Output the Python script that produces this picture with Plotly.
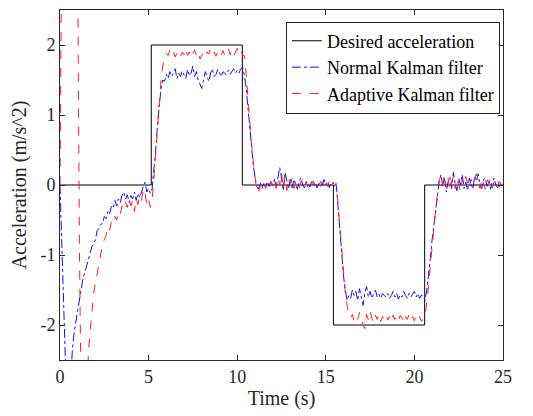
import numpy as np
import plotly.graph_objects as go

# Desired acceleration (step profile)
step_times = [0, 5.15, 10.29, 15.43, 20.58, 25]
step_levels = [0, 2, 0, -2, 0, 0]

# Filter outputs sampled every 0.1 s from 0 to 25 s
time = np.round(np.arange(0, 25.0001, 0.1), 2)

normal_kf = [
    0, -0.85, -1.7, -2.55, -3.3, -3.2, -2.75, -2.35, -2.1, -1.95,
    -1.8, -1.68, -1.5, -1.33, -1.25, -1.15, -1.08, -0.95, -0.88, -0.83,
    -0.78, -0.65, -0.62, -0.56, -0.55, -0.45, -0.48, -0.38, -0.42, -0.3,
    -0.33, -0.22, -0.3, -0.2, -0.25, -0.15, -0.1, -0.2, -0.14, -0.25,
    -0.15, -0.2, -0.1, -0.22, -0.12, -0.18, -0.08, -0.02, 0.04, -0.1,
    -0.05, -0.12, -0.05, 0.2, 0.5, 0.85, 1.15, 1.38, 1.5, 1.48,
    1.58, 1.52, 1.62, 1.55, 1.6, 1.66, 1.52, 1.6, 1.55, 1.63,
    1.57, 1.52, 1.65, 1.56, 1.6, 1.7, 1.55, 1.62, 1.5, 1.45,
    1.38, 1.5, 1.62, 1.55, 1.48, 1.6, 1.66, 1.55, 1.58, 1.65,
    1.6, 1.55, 1.62, 1.6, 1.57, 1.64, 1.58, 1.62, 1.66, 1.6,
    1.64, 1.6, 1.66, 1.68, 1.58, 1.4, 1.1, 0.82, 0.55, 0.3,
    0.12, -0.02, -0.06, 0.04, -0.05, 0.02, -0.04, 0.05, -0.02, 0.06,
    0.0, 0.08, -0.03, 0.12, 0.25, 0.1, -0.08, 0.18, 0.05, -0.06,
    0.1, -0.04, 0.08, 0.02, -0.06, 0.06, 0.1, 0.0, -0.04, 0.05,
    0.02, -0.03, 0.05, 0.0, 0.04, -0.04, 0.02, 0.06, -0.02, 0.08,
    0.0, 0.05, -0.04, 0.04, 0.02, 0.05, -0.02, -0.35, -0.7, -1.0,
    -1.3, -1.5, -1.65, -1.58, -1.62, -1.5, -1.58, -1.52, -1.65, -1.48,
    -1.6, -1.72, -1.55, -1.45, -1.6, -1.52, -1.62, -1.55, -1.5, -1.6,
    -1.56, -1.62, -1.55, -1.58, -1.6, -1.55, -1.62, -1.58, -1.52, -1.6,
    -1.55, -1.63, -1.57, -1.6, -1.52, -1.58, -1.62, -1.55, -1.6, -1.56,
    -1.52, -1.6, -1.55, -1.62, -1.57, -1.6, -1.65, -1.5, -1.3, -1.05,
    -0.78, -0.55, -0.32, -0.12, 0.05, 0.15, -0.02, 0.1, -0.1, 0.05,
    0.12, -0.05, 0.18, 0.02, -0.08, 0.1, 0.0, 0.15, -0.05, 0.04,
    -0.08, 0.1, 0.02, -0.06, 0.12, 0.05, 0.16, 0.0, -0.05, 0.08,
    0.1, -0.02, 0.06, -0.06, 0.05, 0.1, 0.0, -0.04, 0.04, 0.02,
    0.0,
]

adaptive_kf = [
    0, 4.0, 7.0, 8.0, 8.0, 7.5, 6.8, 6.0, 5.0, 4.0,
    3.0, -1.0, -5.0, -5.5, -4.5, -3.2, -2.4, -2.1, -1.8, -1.55,
    -1.4, -1.25, -1.1, -0.95, -0.85, -0.78, -0.72, -0.6, -0.65, -0.52,
    -0.55, -0.45, -0.5, -0.38, -0.42, -0.3, -0.35, -0.25, -0.32, -0.2,
    -0.3, -0.22, -0.38, -0.2, -0.28, -0.15, -0.22, -0.05, -0.12, -0.28,
    -0.2, -0.32, -0.2, 0.1, 0.45, 0.85, 1.2, 1.5, 1.7, 1.82,
    1.88, 1.85, 1.93, 1.86, 1.9, 1.83, 1.88, 1.92, 1.84, 1.9,
    1.86, 1.95, 1.85, 1.9, 1.82, 1.88, 1.93, 1.85, 1.9, 1.8,
    1.86, 1.9, 1.84, 1.9, 1.87, 1.94, 1.86, 1.9, 1.84, 1.9,
    1.93, 1.86, 1.92, 1.85, 1.9, 1.95, 1.86, 1.92, 1.84, 1.9,
    1.95, 1.88, 1.93, 1.86, 1.85, 1.6, 1.25, 0.92, 0.62, 0.35,
    0.12, -0.08, -0.1, 0.0, -0.06, 0.03, -0.05, 0.02, -0.04, 0.05,
    -0.02, 0.06, -0.05, 0.1, 0.0, 0.18, -0.05, 0.12, -0.08, 0.08,
    0.02, 0.1, -0.05, 0.06, 0.0, -0.04, 0.05, 0.08, -0.02, 0.04,
    -0.04, 0.03, 0.0, 0.06, -0.03, 0.02, 0.05, -0.02, 0.04, 0.1,
    0.03, -0.02, 0.06, 0.0, 0.04, -0.02, 0.02, -0.3, -0.65, -1.0,
    -1.3, -1.55, -1.72, -1.85, -1.9, -1.85, -1.95, -1.88, -1.92, -1.82,
    -1.9, -2.0, -2.05, -1.85, -1.92, -1.8, -1.9, -1.97, -1.86, -1.92,
    -1.84, -1.95, -1.88, -1.92, -1.85, -1.93, -1.88, -1.96, -1.86, -1.92,
    -1.88, -1.95, -1.86, -1.9, -1.97, -1.88, -1.92, -1.85, -1.93, -1.88,
    -1.94, -1.86, -1.92, -1.88, -1.95, -1.9, -1.88, -1.7, -1.45, -1.15,
    -0.85, -0.6, -0.35, -0.12, 0.08, 0.12, 0.0, 0.15, -0.05, 0.1,
    -0.08, 0.05, 0.12, -0.05, 0.1, 0.02, -0.1, 0.08, 0.0, 0.12,
    0.02, -0.06, 0.08, 0.0, 0.1, 0.16, 0.04, -0.05, 0.1, 0.0,
    -0.06, 0.08, 0.02, 0.1, -0.04, 0.05, 0.0, 0.06, -0.02, 0.03,
    0.0,
]

x_ticks = [0, 5, 10, 15, 20, 25]
y_ticks = [-2, -1, 0, 1, 2]
y_tick_labels = ["-2", "-1", "0", "1", "2"]

FONT = "'Liberation Serif', 'Times New Roman', serif"
AX = "#262626"

fig = go.Figure()
fig.add_trace(go.Scatter(
    x=step_times, y=step_levels, mode="lines", line_shape="hv",
    name="Desired acceleration", line=dict(color="black", width=1)))
fig.add_trace(go.Scatter(
    x=time, y=normal_kf, mode="lines", name="Normal Kalman filter",
    line=dict(color="#1010ff", width=1, dash="dashdot")))
fig.add_trace(go.Scatter(
    x=time, y=adaptive_kf, mode="lines", name="Adaptive Kalman filter",
    line=dict(color="#ff2020", width=1, dash="dash")))

fig.update_xaxes(
    range=[0, 25], tickmode="array", tickvals=x_ticks,
    showgrid=False, zeroline=False, showline=True, linecolor=AX, linewidth=1,
    mirror="ticks", ticks="inside", ticklen=5, tickcolor=AX, automargin=False,
    tickfont_family=FONT, tickfont_size=18, tickfont_color=AX,
    title_text="Time (s)", title_font_family=FONT, title_font_size=20,
    title_font_color=AX, title_standoff=5,
)
fig.update_yaxes(
    range=[-2.5, 2.5], tickmode="array", tickvals=y_ticks, ticktext=y_tick_labels,
    showgrid=False, zeroline=False, showline=True, linecolor=AX, linewidth=1,
    mirror="ticks", ticks="inside", ticklen=5, tickcolor=AX, automargin=False,
    tickfont_family=FONT, tickfont_size=18, tickfont_color=AX,
    title_text="Acceleration (m/s^2)", title_font_family=FONT, title_font_size=20,
    title_font_color=AX, title_standoff=12,
)

fig.update_layout(
    template="none",
    width=533, height=416,
    margin=dict(l=52, r=38, t=2, b=64),
    paper_bgcolor="white", plot_bgcolor="white",
    font_family=FONT, font_color=AX,
    legend=dict(x=0.993, y=0.967, xanchor="right", yanchor="top",
                bgcolor="white", bordercolor=AX, borderwidth=1,
                font=dict(family=FONT, size=18, color="black"),
                tracegroupgap=0, itemwidth=30),
    showlegend=True,
)

fig.write_html("out.html")
